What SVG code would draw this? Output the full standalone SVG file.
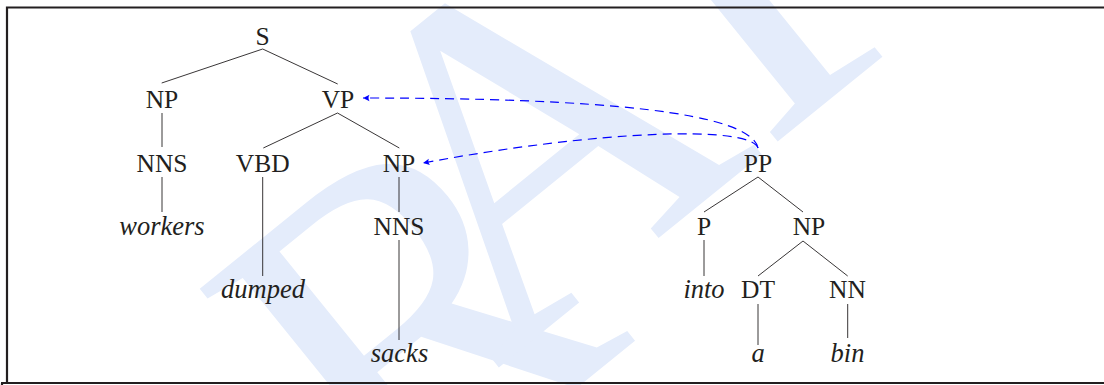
<svg xmlns="http://www.w3.org/2000/svg" width="1104" height="385" viewBox="0 0 1104 385">
<defs>
<marker id="ah" viewBox="-8 -4 9 8" refX="0" refY="0" markerWidth="9" markerHeight="8" markerUnits="userSpaceOnUse" orient="auto">
<path d="M0,0 L-6.5,-3.2 Q-4.5,0 -6.5,3.2 Z" fill="#0000ff"/>
</marker>
</defs>
<style>
.t{font-size:25.5px;fill:#231f20;text-anchor:middle}
.w{font-style:italic;font-size:26.5px}
.e{stroke:#231f20;stroke-width:0.9;fill:none}
.a{stroke:#0000ff;stroke-width:1.2;fill:none;stroke-dasharray:9 6;marker-end:url(#ah)}
.wm{font-size:480px;fill:#e4ecfb}
.fr{stroke:#231f20;stroke-width:2.2;fill:none}
</style>
<rect width="1104" height="385" fill="#ffffff"/>
<g font-family="Liberation Serif, DejaVu Serif, serif">
<text class="wm" transform="translate(-23,790) rotate(-39)">D<tspan dx="128" dy="65">R</tspan><tspan dx="-128" dy="-65">AFT</tspan></text>
</g>
<path class="fr" d="M7,383 V7.5 H1104 M1,383 H1104 M2,383 V385"/>
<g id="edges">
<line class="e" x1="262.7" y1="49" x2="161.7" y2="83"/>
<line class="e" x1="262.7" y1="49" x2="337.7" y2="84"/>
<line class="e" x1="162" y1="113" x2="162" y2="147"/>
<line class="e" x1="162" y1="177" x2="162" y2="212"/>
<line class="e" x1="337.5" y1="113" x2="263.3" y2="148"/>
<line class="e" x1="337.5" y1="113" x2="399.3" y2="148"/>
<line class="e" x1="262.7" y1="177" x2="262.7" y2="276"/>
<line class="e" x1="399" y1="177" x2="399" y2="212"/>
<line class="e" x1="399" y1="240" x2="399" y2="340"/>
<line class="e" x1="758" y1="177" x2="704" y2="212"/>
<line class="e" x1="758" y1="177" x2="803" y2="212"/>
<line class="e" x1="704" y1="240" x2="704" y2="276"/>
<line class="e" x1="803" y1="241" x2="758" y2="276"/>
<line class="e" x1="803" y1="241" x2="847.7" y2="276"/>
<line class="e" x1="758" y1="304" x2="758" y2="345"/>
<line class="e" x1="847.7" y1="304" x2="847.7" y2="338"/>
</g>
<g id="connectors">
<path class="a" d="M758,148 C750,112 600,98 363,98"/>
<path class="a" d="M758,148 C750,125 600,130 423,163"/>
</g>
<g font-family="Liberation Serif, DejaVu Serif, serif">
<g id="n-S"><text class="t" x="262.5" y="44.5">S</text></g>
<g id="n-NP1"><text class="t" x="162" y="107.5">NP</text></g>
<g id="n-VP"><text class="t" x="338" y="107.5">VP</text></g>
<g id="n-NNS1"><text class="t" x="162" y="171.5">NNS</text></g>
<g id="n-VBD"><text class="t" x="262.7" y="171.5">VBD</text></g>
<g id="n-NP2"><text class="t" x="399" y="171.5">NP</text></g>
<g id="n-workers"><text class="t w" x="162" y="235">workers</text></g>
<g id="n-NNS2"><text class="t" x="399" y="234.5">NNS</text></g>
<g id="n-dumped"><text class="t w" x="263" y="297.5">dumped</text></g>
<g id="n-sacks"><text class="t w" x="399.5" y="362">sacks</text></g>
<g id="n-PP"><text class="t" x="758" y="171.5">PP</text></g>
<g id="n-P"><text class="t" x="704" y="235">P</text></g>
<g id="n-NP3"><text class="t" x="809" y="235">NP</text></g>
<g id="n-into"><text class="t w" x="704" y="298">into</text></g>
<g id="n-DT"><text class="t" x="758" y="298">DT</text></g>
<g id="n-NN"><text class="t" x="847.5" y="298">NN</text></g>
<g id="n-a"><text class="t w" x="758" y="362">a</text></g>
<g id="n-bin"><text class="t w" x="847.5" y="362">bin</text></g>
</g>
</svg>
